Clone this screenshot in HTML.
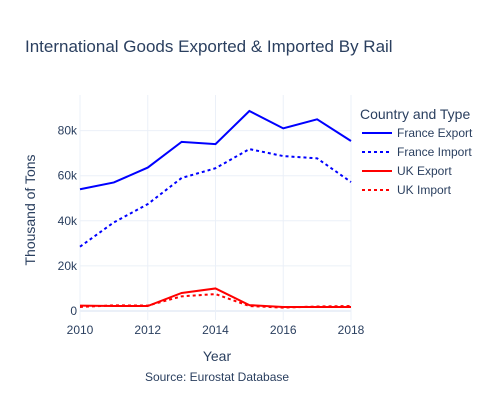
<!DOCTYPE html>
<html><head><meta charset="utf-8"><style>
body{margin:0;background:#fff;font-family:"Liberation Sans",Arial,sans-serif;}
svg text{fill:#2a3f5f;font-family:"Liberation Sans",Arial,sans-serif;}
</style></head><body>
<svg id="chart" width="500" height="400">
<text x="25" y="52" font-size="17">International Goods Exported &amp; Imported By Rail</text>
<g id="grid"></g>
<g id="series"></g>
<g id="ticks"></g>
<text x="217" y="361" font-size="14" text-anchor="middle">Year</text>
<text transform="translate(35,210) rotate(-90)" font-size="14" text-anchor="middle">Thousand of Tons</text>
<text x="217" y="381" font-size="12" text-anchor="middle">Source: Eurostat Database</text>
<g>
<text x="360" y="119" font-size="14">Country and Type</text>
<g id="legend"></g>
</g>
</svg>
<script>
const years=[2010,2011,2012,2013,2014,2015,2016,2017,2018];
const franceExport=[54,57,63.6,75,74,88.7,81,85,75.4];
const franceImport=[28.5,39.3,47.4,59,63.3,71.8,68.7,67.7,57.2];
const ukExport=[2.4,2.2,2.2,8,10,2.6,1.8,1.8,1.8];
const ukImport=[1.8,2.5,2.4,6.5,7.5,2.2,1.5,2,2.2];
const yTicks=[0,20,40,60,80];
const yTickLabels=["0","20k","40k","60k","80k"];
const xTicks=[2010,2012,2014,2016,2018];
const seriesNames=["France Export","France Import","UK Export","UK Import"];
const NS="http://www.w3.org/2000/svg";
const X0=80,X1=351,Y0=311,PER=45.1/20;
const xs=v=>X0+(v-2010)*(X1-X0)/8;
const ys=v=>Y0-v*PER;
function mk(tag,attrs,parent){const e=document.createElementNS(NS,tag);for(const k in attrs)e.setAttribute(k,attrs[k]);parent.appendChild(e);return e;}
const grid=document.getElementById('grid'),ticks=document.getElementById('ticks');
yTicks.forEach((t,i)=>{
 const l=mk('line',{x1:X0,x2:X1,y1:ys(t),y2:ys(t),stroke:'#ebf0f8','stroke-width':t===0?2:1},grid);
 
 
 const tx=mk('text',{x:X0-3,y:ys(t)+4,'font-size':12,'text-anchor':'end'},ticks);
 tx.textContent=yTickLabels[i];
 
 
});
xTicks.forEach(t=>{
 const l=mk('line',{x1:xs(t),x2:xs(t),y1:95,y2:320,stroke:'#ebf0f8'},grid);
 
 
 const tx=mk('text',{x:xs(t),y:334,'font-size':12,'text-anchor':'middle'},ticks);
 tx.textContent=t;
 
 
});
const data=[franceExport,franceImport,ukExport,ukImport];
const colors=['#0000ff','#0000ff','#ff0000','#ff0000'];
const dashes=['','3,3','','3,3'];
const sg=document.getElementById('series'),lg=document.getElementById('legend');
data.forEach((d,i)=>{
 const p=mk('polyline',{points:d.map((v,j)=>xs(years[j])+','+ys(v)).join(' '),fill:'none',stroke:colors[i],'stroke-width':2,'stroke-dasharray':dashes[i]},sg);
 
 
 const y=133+i*19;
 const g=mk('g',{},lg);
 
 
 mk('line',{x1:362,x2:392,y1:y,y2:y,stroke:colors[i],'stroke-width':2,'stroke-dasharray':dashes[i]},g);
 const t=mk('text',{x:397,y:y+4,'font-size':12},g);
 t.textContent=seriesNames[i];
});
</script>
</body></html>
